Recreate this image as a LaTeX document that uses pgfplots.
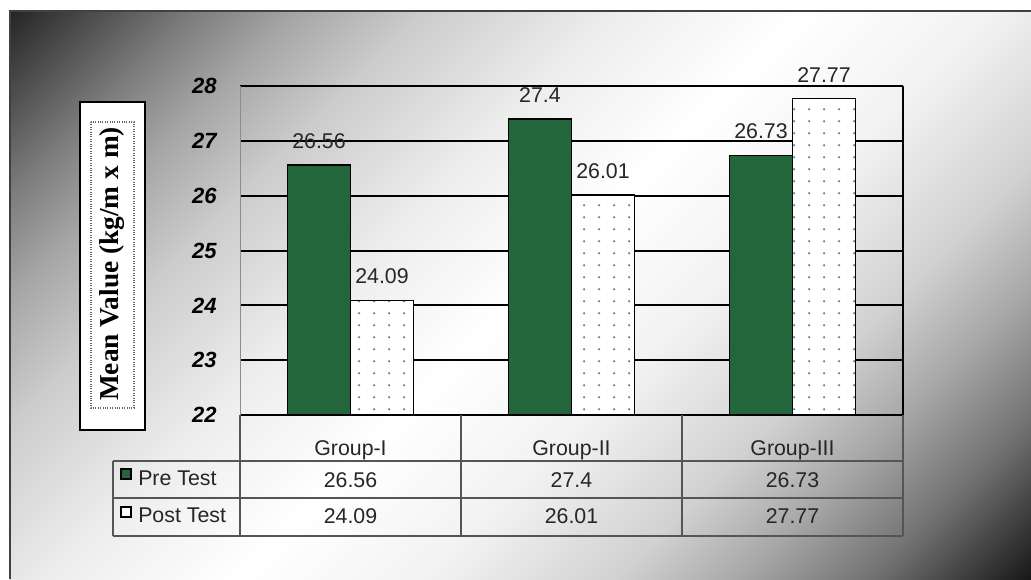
\documentclass[border=0pt]{standalone}
\usepackage{pgfplots}
\pgfplotsset{compat=1.18}
\usepackage{pgfplotstable}
\usepackage{fontspec}
\setmainfont{Liberation Sans}
\newfontfamily\labelserif{Liberation Serif}
\usetikzlibrary{patterns.meta}

\definecolor{pregreen}{RGB}{36,102,60}
\definecolor{dotblue}{RGB}{95,135,170}
\definecolor{rulegray}{RGB}{85,85,85}

% diagonal backdrop: dark corners, white band through the middle
\pgfdeclarehorizontalshading{backdrop}{100bp}{
  color(0bp)=(black!88);
  color(14.6bp)=(black!85);
  color(23bp)=(black!50);
  color(27.3bp)=(black!35);
  color(33bp)=(black!20);
  color(41.5bp)=(black!7);
  color(50bp)=(white);
  color(58.5bp)=(black!5);
  color(67bp)=(black!18);
  color(72.7bp)=(black!35);
  color(78.3bp)=(black!55);
  color(85.4bp)=(black!90);
  color(100bp)=(black!90)}

% sparse dot fill for the post-test bars
\tikzdeclarepattern{
  name=sparsedots,
  type=uncolored,
  bounding box={(0,0) and (11pt,8.8pt)},
  tile size={(11pt,8.8pt)},
  code={\fill (5.5pt,4.4pt) circle (1pt);}
}

\pgfplotstableread{
grp pre post
0 26.56 24.09
1 27.4 26.01
2 26.73 27.77
}\scores

\begin{document}
\begin{tikzpicture}[x=0.75pt,y=-0.75pt]
\path[use as bounding box] (0,0) rectangle (1031,579);
\fill[white] (0,0) rectangle (1031,579);
\shade[shading=backdrop, shading angle=-45] (10,11) rectangle (1031,579);
\draw[black!75, line width=1pt] (10,579) -- (10,11) -- (1031,11);

% y-axis title box
\draw[black, line width=1.1pt, fill=white] (80,102) rectangle (145,430);
\draw[black!60, densely dotted, line width=0.8pt] (91,122) rectangle (134,408);
\node[rotate=90, font=\labelserif\bfseries\fontsize{20.5}{24}\selectfont] at (112,264) {Mean Value (kg/m x m)};

\begin{axis}[
  at={(180pt,-311.25pt)}, anchor=south west,
  scale only axis, width=497.25pt, height=246.75pt,
  xmin=-0.5, xmax=2.5, ymin=22, ymax=28,
  ytick={22,...,28}, xtick=\empty,
  ybar=0pt, bar width=47.25pt,
  axis line style={draw=none},
  ymajorgrids, grid style={black, line width=1.5pt},
  major tick length=0pt,
  /pgf/number format/assume math mode=true,
  yticklabel style={font=\bfseries\itshape\fontsize{16.5}{19}\selectfont, xshift=-14pt},
  nodes near coords,
  every node near coord/.append style={font=\fontsize{16}{19}\selectfont, text=black!85, yshift=8.5pt},
  clip=false]
\addplot[fill=pregreen, draw=black, line width=1pt] table[x=grp, y=pre]{\scores};
\addplot[draw=black, line width=1pt, preaction={fill=white}, pattern=sparsedots, pattern color=dotblue] table[x=grp, y=post]{\scores};
\draw[black!45, line width=0.6pt] (rel axis cs:0,0) -- (rel axis cs:0,1);
\draw[black, line width=1.5pt] (rel axis cs:1,0) -- (rel axis cs:1,1);
\end{axis}

% data table under the plot
\begin{scope}[rulegray, line width=1.1pt]
\foreach \xx in {240,461,682,903} \draw (\xx,415) -- (\xx,536);
\foreach \yy in {461,498,536} \draw (113,\yy) -- (903,\yy);
\draw (113,461) -- (113,536);
\end{scope}
\begin{scope}[every node/.style={font=\fontsize{16}{19}\selectfont, text=black!85, anchor=base, inner sep=0pt}]
\node at (350.5,455) {Group-I};
\node at (571.5,455) {Group-II};
\node at (792.5,455) {Group-III};
\foreach \r in {0,1,2} {
  \pgfplotstablegetelem{\r}{pre}\of\scores \let\preval\pgfplotsretval
  \pgfplotstablegetelem{\r}{post}\of\scores \let\postval\pgfplotsretval
  \node at ({350.5+221*\r},487) {\preval};
  \node at ({350.5+221*\r},523) {\postval};
}
\node[anchor=base west] at (138,485) {Pre Test};
\node[anchor=base west] at (138,522) {Post Test};
\end{scope}
\draw[black, line width=1pt, fill=pregreen] (121,469) rectangle (131,479);
\draw[black, line width=1.4pt, fill=white] (121,507) rectangle (131,517);
\end{tikzpicture}
\end{document}
